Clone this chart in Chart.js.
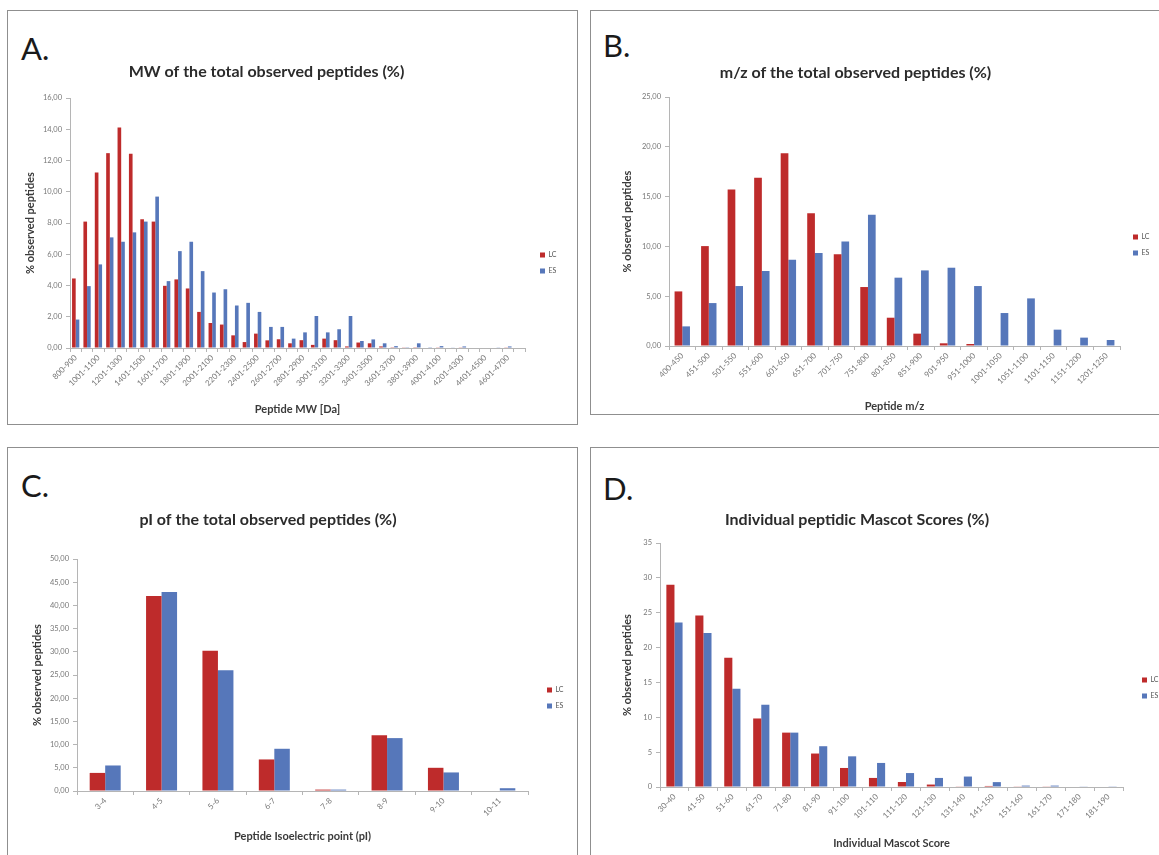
<!DOCTYPE html>
<html>
<head>
<meta charset="utf-8">
<script src="https://cdn.jsdelivr.net/npm/chart.js@4.4.1/dist/chart.umd.min.js"></script>
<style>
  html, body { margin: 0; padding: 0; background: #fff; }
  body { width: 1159px; height: 855px; position: relative; overflow: hidden; }
  .panel { position: absolute; border: 1.5px solid #8f8f8f; box-sizing: border-box; }
  canvas { position: absolute; }
  .lab { position: absolute; font-family: Lato, "Liberation Sans", sans-serif; font-size: 31px; line-height: 31px; color: #1a1a1a; }
</style>
</head>
<body>
<div class="panel" style="left:7px;top:10px;width:571px;height:415px"></div>
<div class="panel" style="left:590px;top:10px;width:580px;height:405px"></div>
<div class="panel" style="left:7px;top:447px;width:571px;height:420px"></div>
<div class="panel" style="left:590px;top:447px;width:580px;height:420px"></div>

<div class="lab" style="left:21px;top:33px">A.</div>
<div class="lab" style="left:603px;top:30px">B.</div>
<div class="lab" style="left:21px;top:470px">C.</div>
<div class="lab" style="left:603px;top:473px">D.</div>

<canvas id="cA" width="569" height="413" style="left:8px;top:11px"></canvas>
<canvas id="cB" width="568" height="403" style="left:591px;top:11px"></canvas>
<canvas id="cC" width="569" height="407" style="left:8px;top:448px"></canvas>
<canvas id="cD" width="568" height="407" style="left:591px;top:448px"></canvas>

<script>
// ---------- DATA ----------
const seriesNames = ["LC", "ES"];

const mwLabels = ["800-900","901-1000","1001-1100","1101-1200","1201-1300","1301-1400","1401-1500","1501-1600",
  "1601-1700","1701-1800","1801-1900","1901-2000","2001-2100","2101-2200","2201-2300","2301-2400",
  "2401-2500","2501-2600","2601-2700","2701-2800","2801-2900","2901-3000","3001-3100","3101-3200",
  "3201-3300","3301-3400","3401-3500","3501-3600","3601-3700","3701-3800","3801-3900","3901-4000",
  "4001-4100","4101-4200","4201-4300","4301-4400","4401-4500","4501-4600","4601-4700","4701-4800"];
const mwLC = [4.45, 8.09, 11.23, 12.47, 14.12, 12.43, 8.24, 8.09, 3.98, 4.39, 3.81, 2.31, 1.60, 1.50, 0.81, 0.38,
  0.92, 0.49, 0.56, 0.30, 0.50, 0.20, 0.60, 0.50, 0.10, 0.35, 0.30, 0.10, 0.05, 0.02, 0.05, 0.00,
  0.02, 0.00, 0.02, 0.00, 0.00, 0.00, 0.02, 0.00];
const mwES = [1.82, 3.96, 5.35, 7.08, 6.80, 7.40, 8.09, 9.69, 4.28, 6.20, 6.80, 4.92, 3.55, 3.76, 2.72, 2.89,
  2.31, 1.35, 1.35, 0.60, 1.00, 2.05, 1.00, 1.20, 2.05, 0.45, 0.55, 0.30, 0.12, 0.05, 0.30, 0.05,
  0.12, 0.04, 0.10, 0.03, 0.03, 0.02, 0.10, 0.03];

const mzLabels = ["400-450","451-500","501-550","551-600","601-650","651-700","701-750","751-800","801-850",
  "851-900","901-950","951-1000","1001-1050","1051-1100","1101-1150","1151-1200","1201-1250"];
const mzLC = [5.48, 10.03, 15.72, 16.89, 19.36, 13.34, 9.20, 5.92, 2.84, 1.24, 0.27, 0.20, 0, 0, 0, 0, 0];
const mzES = [1.97, 4.31, 6.02, 7.53, 8.66, 9.33, 10.50, 13.18, 6.86, 7.59, 7.86, 6.02, 3.31, 4.78, 1.64, 0.84, 0.60];

const piLabels = ["3-4","4-5","5-6","6-7","7-8","8-9","9-10","10-11"];
const piLC = [3.9, 42.0, 30.2, 6.8, 0.3, 12.0, 5.0, 0.0];
const piES = [5.5, 42.9, 26.0, 9.1, 0.3, 11.4, 4.0, 0.6];

const scLabels = ["30-40","41-50","51-60","61-70","71-80","81-90","91-100","101-110","111-120","121-130",
  "131-140","141-150","151-160","161-170","171-180","181-190"];
const scLC = [29.0, 24.6, 18.55, 9.83, 7.8, 4.8, 2.73, 1.3, 0.72, 0.35, 0.05, 0.15, 0.05, 0.05, 0, 0];
const scES = [23.6, 22.1, 14.1, 11.8, 7.8, 5.85, 4.4, 3.45, 2.0, 1.3, 1.5, 0.7, 0.2, 0.2, 0.05, 0.1];

// ---------- STYLE ----------
const FONT = 'Lato, "Liberation Sans", sans-serif';
const RED = '#BE2B2B';
const BLUE = '#5677BA';
const comma2 = v => Number(v).toFixed(2).replace('.', ',');
const plain = v => String(v);

const placeLegend = {
  id: 'placeLegend',
  afterLayout(chart, args, o) {
    const lg = chart.legend;
    if (!lg) return;
    const pad = lg.options.labels.padding;
    const ih = Math.max(lg.options.labels.font.size, lg.options.labels.boxHeight);
    lg.left = o.x - pad;
    lg.right = lg.left + 80;
    lg.top = o.y - pad - ih / 2;
    lg.bottom = lg.top + 150;
  }
};

function build(id, p) {
  return new Chart(document.getElementById(id), {
    type: 'bar',
    data: {
      labels: p.labels,
      datasets: [
        { label: seriesNames[0], data: p.lc, backgroundColor: RED, categoryPercentage: p.cat, barPercentage: 1 },
        { label: seriesNames[1], data: p.es, backgroundColor: BLUE, categoryPercentage: p.cat, barPercentage: 1 }
      ]
    },
    options: {
      responsive: false,
      animation: false,
      layout: { padding: { left: 0, top: 0, right: p.padR, bottom: 0 } },
      plugins: {
        title: {
          display: true, text: p.title, color: '#2b2b2b',
          font: { family: FONT, size: 16, weight: 'bold' },
          padding: { top: p.tTop, bottom: p.tBot }
        },
        legend: {
          position: 'chartArea', align: 'start',
          labels: { boxWidth: 5, boxHeight: 5, padding: 9, textAlign: 'left',
                    font: { family: FONT, size: 7 }, color: '#555' }
        },
        tooltip: { enabled: false },
        placeLegend: { x: p.lx, y: p.ly }
      },
      scales: {
        x: {
          grid: { display: true, drawOnChartArea: false, tickLength: 4, color: '#b5b5b5' },
          border: { color: '#b5b5b5' },
          ticks: {
            autoSkip: false, maxRotation: 45, minRotation: 45, padding: 1,
            font: { family: FONT, size: 8 }, color: '#777',
            callback: function (v, i) { return (i % p.every === 0) ? this.getLabelForValue(v) : ''; }
          },
          title: {
            display: true, text: p.xTitle, color: '#3a3a3a',
            font: { family: FONT, size: 11, weight: 'bold' },
            padding: { top: 0, bottom: p.xtPad }
          },
          afterFit: s => { s.height = p.xH; }
        },
        y: {
          min: 0, max: p.max,
          grid: { display: true, drawOnChartArea: false, tickLength: 4, color: '#b5b5b5' },
          border: { color: '#b5b5b5' },
          ticks: { stepSize: p.step, padding: 4, font: { family: FONT, size: 7.5 }, color: '#777',
                   callback: p.yfmt },
          title: {
            display: true, text: '% observed peptides', color: '#3a3a3a',
            font: { family: FONT, size: 11, weight: 'bold' },
            padding: { top: p.ytPad, bottom: 0 }
          },
          afterFit: s => { s.width = p.yW; }
        }
      }
    },
    plugins: [placeLegend]
  });
}

build('cA', { labels: mwLabels, lc: mwLC, es: mwES, cat: 0.64, every: 2,
  title: 'MW of the total observed peptides (%)', xTitle: 'Peptide MW [Da]',
  max: 16, step: 2, yfmt: comma2,
  padR: 52, tTop: 51.4, tBot: 16.4, yW: 62, ytPad: 15.4, xH: 76, xtPad: 8.4, lx: 532, ly: 244 });

build('cB', { labels: mzLabels, lc: mzLC, es: mzES, cat: 0.58, every: 1,
  title: 'm/z of the total observed peptides (%)', xTitle: 'Peptide m/z',
  max: 25, step: 5, yfmt: comma2,
  padR: 39, tTop: 52.4, tBot: 14.4, yW: 78, ytPad: 29.4, xH: 68, xtPad: 1.4, lx: 542, ly: 226 });

build('cC', { labels: piLabels, lc: piLC, es: piES, cat: 0.55, every: 1,
  title: 'pI of the total observed peptides (%)', xTitle: 'Peptide Isoelectric point (pI)',
  max: 50, step: 5, yfmt: comma2,
  padR: 49, tTop: 62.4, tBot: 29.4, yW: 69, ytPad: 22.4, xH: 64, xtPad: 12.4, lx: 539, ly: 242 });

build('cD', { labels: scLabels, lc: scLC, es: scES, cat: 0.56, every: 1,
  title: 'Individual peptidic Mascot Scores (%)', xTitle: 'Individual Mascot Score',
  max: 35, step: 5, yfmt: plain,
  padR: 36, tTop: 62.4, tBot: 13.4, yW: 69, ytPad: 29.4, xH: 68, xtPad: 5.4, lx: 551, ly: 232 });
</script>
</body>
</html>
